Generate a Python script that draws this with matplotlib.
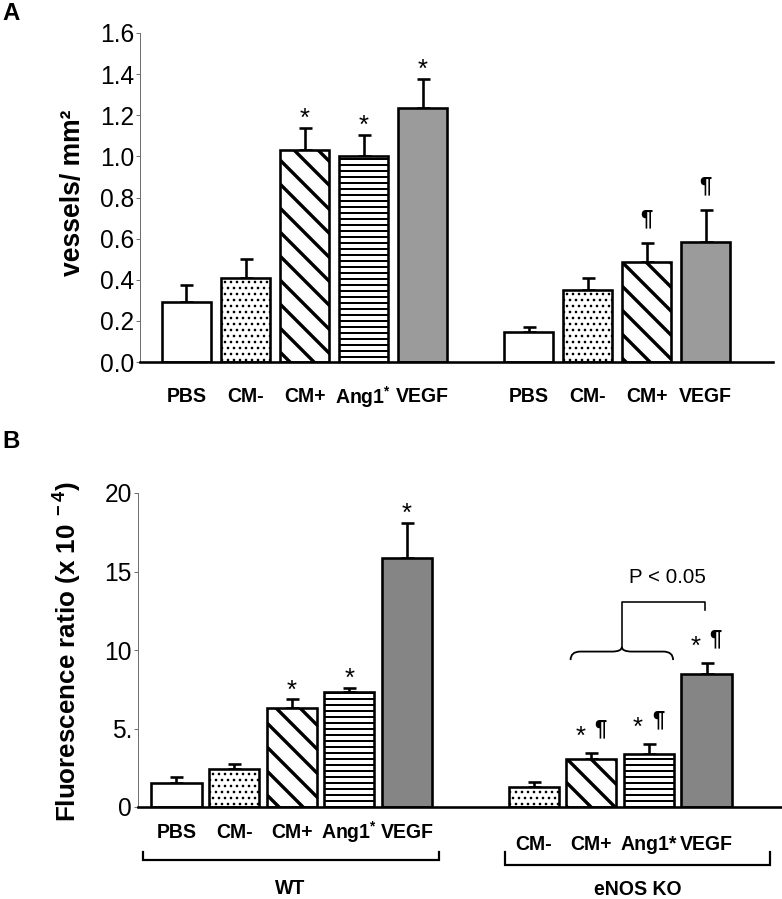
import matplotlib
matplotlib.use("Agg")
import matplotlib.pyplot as plt
import matplotlib.transforms as mtransforms
from matplotlib.path import Path
from matplotlib.patches import PathPatch
import numpy as np

plt.rcParams['font.family'] = ['Liberation Sans', 'DejaVu Sans']
plt.rcParams['mathtext.fontset'] = 'custom'
plt.rcParams['mathtext.rm'] = 'Liberation Sans:bold'
plt.rcParams['mathtext.it'] = 'Liberation Sans:bold'
plt.rcParams['mathtext.bf'] = 'Liberation Sans:bold'

# ---------------- data ----------------
A_wt_labels = ['PBS', 'CM-', 'CM+', 'Ang1$^{*}$', 'VEGF']
A_wt_vals = [0.29, 0.41, 1.03, 1.00, 1.235]
A_wt_err = [0.085, 0.09, 0.11, 0.105, 0.14]
A_wt_marks = ['', '', '*', '*', '*']

A_ko_labels = ['PBS', 'CM-', 'CM+', 'VEGF']
A_ko_vals = [0.145, 0.35, 0.485, 0.585]
A_ko_err = [0.025, 0.06, 0.095, 0.155]
A_ko_marks = ['', '', '¶', '¶']

B_wt_labels = ['PBS', 'CM-', 'CM+', 'Ang1$^{*}$', 'VEGF']
B_wt_vals = [1.5, 2.45, 6.3, 7.3, 15.85]
B_wt_err = [0.4, 0.28, 0.55, 0.3, 2.25]
B_wt_marks = ['', '', '*', '*', '*']

B_ko_labels = ['CM-', 'CM+', 'Ang1*', 'VEGF']
B_ko_vals = [1.27, 3.05, 3.4, 8.45]
B_ko_err = [0.33, 0.4, 0.62, 0.75]
B_ko_marks = ['', '* ¶', '* ¶', '* ¶']

A_yticks = [0.0, 0.2, 0.4, 0.6, 0.8, 1.0, 1.2, 1.4, 1.6]
A_yticklabels = ['0.0', '0.2', '0.4', '0.6', '0.8', '1.0', '1.2', '1.4', '1.6']
B_yticks = [0, 5, 10, 15, 20]
B_yticklabels = ['0', '5.', '10', '15', '20']

group_names = ['WT', 'eNOS KO']
p_text = 'P < 0.05'

# ---------------- styles ----------------
styles = {
    'PBS': dict(fc='white', hatch=None, hlw=1.0),
    'CM-': dict(fc='white', hatch='..', hlw=1.4),
    'CM+': dict(fc='white', hatch='\\', hlw=3.4),
    'Ang1': dict(fc='white', hatch='--', hlw=2.0),
}
GRAY_A = '#9b9b9b'
GRAY_B = '#858585'
LABEL_FS = 19.5

DPI = 72
fig = plt.figure(figsize=(782 / DPI, 899 / DPI), dpi=DPI)


def style_for(label, gray):
    key = label.split('$')[0].replace('*', '')
    if key == 'VEGF':
        return dict(fc=gray, hatch=None, hlw=1.0)
    return styles[key]


def draw_bars(ax, pos, vals, errs, labels, gray, width):
    for x, v, e, lab in zip(pos, vals, errs, labels):
        st = style_for(lab, gray)
        with plt.rc_context({'hatch.linewidth': st['hlw'], 'hatch.color': 'black'}):
            b = ax.bar(x, v, width=width, color=st['fc'], edgecolor='black',
                       linewidth=2.6, hatch=st['hatch'], zorder=2)
        for p in b.patches:
            try:
                p.set_hatch_linewidth(st['hlw'])
            except Exception:
                pass
        ax.errorbar(x, v, yerr=[[0], [e]], fmt='none', ecolor='black',
                    elinewidth=2.6, capsize=6.5, capthick=2.6, zorder=1)


def draw_marks(ax, pos, vals, errs, marks):
    for x, v, e, m in zip(pos, vals, errs, marks):
        if not m:
            continue
        syms = m.split()
        has_pil = '¶' in syms
        base = 24 if has_pil else 17
        if len(syms) == 1:
            dxs = [0]
        else:
            dxs = [-11, 9]
        for s, dx in zip(syms, dxs):
            if s == '*':
                ax.annotate(s, (x, v + e), xytext=(dx, base - 8),
                            textcoords='offset points', ha='center',
                            va='center', fontsize=26, zorder=5)
            else:
                ax.annotate(s, (x, v + e), xytext=(dx, base),
                            textcoords='offset points', ha='center',
                            va='center', fontsize=22, fontweight='bold',
                            zorder=5)


def setup_axis(ax, xlim, ylim, yticks, yticklabels):
    ax.set_xlim(*xlim)
    ax.set_ylim(*ylim)
    ax.spines['top'].set_visible(False)
    ax.spines['right'].set_visible(False)
    ax.spines['left'].set_color('#707070')
    ax.spines['left'].set_linewidth(1.0)
    ax.spines['bottom'].set_color('black')
    ax.spines['bottom'].set_linewidth(2.6)
    ax.spines['bottom'].set_zorder(3)
    ax.set_xticks([])
    ax.set_yticks(yticks)
    ax.set_yticklabels(yticklabels, fontsize=24.5)
    ax.tick_params(axis='y', length=4, width=1.0, color='#707070', pad=2)
    ax.patch.set_alpha(0)


# ---------------- Panel A ----------------
axA = fig.add_axes([140 / 782, 1 - 362 / 899, 633 / 782, 329 / 899])
posA_wt = np.arange(len(A_wt_vals)) * 1.0
posA_ko = posA_wt[-1] + 1.8 + np.arange(len(A_ko_vals))
setup_axis(axA, (-0.788, 9.94), (0, 1.6), A_yticks, A_yticklabels)
draw_bars(axA, posA_wt, A_wt_vals, A_wt_err, A_wt_labels, GRAY_A, 0.83)
draw_bars(axA, posA_ko, A_ko_vals, A_ko_err, A_ko_labels, GRAY_A, 0.83)
draw_marks(axA, posA_wt, A_wt_vals, A_wt_err, A_wt_marks)
draw_marks(axA, posA_ko, A_ko_vals, A_ko_err, A_ko_marks)
trA = mtransforms.blended_transform_factory(axA.transData, axA.transAxes)
for x, lab in zip(list(posA_wt) + list(posA_ko), A_wt_labels + A_ko_labels):
    axA.text(x, -0.106, lab, transform=trA, ha='center', va='center',
             fontsize=LABEL_FS, fontweight='bold')

fig.text(73 / 782, 1 - 193 / 899, 'vessels/ mm²', rotation=90, ha='center',
         va='center', fontsize=26.5, fontweight='bold')
fig.text(2 / 782, 1 - 2 / 899, 'A', ha='left', va='top', fontsize=24,
         fontweight='bold')

# ---------------- Panel B ----------------
axB = fig.add_axes([138 / 782, 1 - 807 / 899, 644 / 782, 314 / 899])
posB_wt = np.arange(len(B_wt_vals)) * 1.0
posB_ko = posB_wt[-1] + 2.2 + np.arange(len(B_ko_vals))
setup_axis(axB, (-0.668, 10.51), (0, 20), B_yticks, B_yticklabels)
draw_bars(axB, posB_wt, B_wt_vals, B_wt_err, B_wt_labels, GRAY_B, 0.87)
draw_bars(axB, posB_ko, B_ko_vals, B_ko_err, B_ko_labels, GRAY_B, 0.87)
draw_marks(axB, posB_wt, B_wt_vals, B_wt_err, B_wt_marks)
draw_marks(axB, posB_ko, B_ko_vals, B_ko_err, B_ko_marks)

trB = mtransforms.blended_transform_factory(axB.transData, axB.transAxes)
for x, lab in zip(posB_wt, B_wt_labels):
    axB.text(x, -0.08, lab, transform=trB, ha='center', va='center',
             fontsize=LABEL_FS, fontweight='bold')
for x, lab in zip(posB_ko, B_ko_labels):
    axB.text(x, -0.121, lab, transform=trB, ha='center', va='center',
             fontsize=LABEL_FS, fontweight='bold')


# group brackets under panel B
def group_bracket(ax, x0, x1, ybase, ytop, label, xlabel, ylabel):
    ax.plot([x0, x0, x1, x1], [ytop, ybase, ybase, ytop], transform=trB,
            color='black', lw=2.2, clip_on=False, solid_joinstyle='miter')
    ax.text(xlabel, ylabel, label, transform=trB, ha='center', va='center',
            fontsize=LABEL_FS, fontweight='bold')


group_bracket(axB, posB_wt[0] - 0.58, posB_wt[-1] + 0.56, -0.169, -0.143,
              group_names[0], 1.97, -0.261)
group_bracket(axB, posB_ko[0] - 0.5, posB_ko[-1] + 1.1, -0.185, -0.143,
              group_names[1], 8.0, -0.264)

# curly brace + significance bracket
bx0 = posB_ko[1] - 0.36
bx1 = posB_ko[2] + 0.42
bxm = (bx0 + bx1) / 2
y0, y1, y2 = 9.36, 9.9, 10.2
d = 0.17
verts = [(bx0, y0), (bx0, y1), (bx0 + d, y1),
         (bxm - d, y1), (bxm, y1), (bxm, y2),
         (bxm, y1), (bxm + d, y1),
         (bx1 - d, y1), (bx1, y1), (bx1, y0)]
codes = [Path.MOVETO, Path.CURVE3, Path.CURVE3,
         Path.LINETO, Path.CURVE3, Path.CURVE3,
         Path.CURVE3, Path.CURVE3,
         Path.LINETO, Path.CURVE3, Path.CURVE3]
axB.add_patch(PathPatch(Path(verts, codes), fill=False, lw=1.8,
                        edgecolor='black', zorder=4))
vx = posB_ko[3] - 0.02
axB.plot([bxm, bxm, vx, vx], [y2, 13.06, 13.06, 12.55], color='black',
         lw=1.6, zorder=4)
axB.text(8.52, 14.6, p_text, ha='center', va='center', fontsize=20.5)

fig.text(68 / 782, 1 - 652 / 899, 'Fluorescence ratio (x 10$^{\\ -4}$)',
         rotation=90, ha='center', va='center', fontsize=26,
         fontweight='bold')
fig.text(2 / 782, 1 - 430 / 899, 'B', ha='left', va='top', fontsize=24,
         fontweight='bold')

fig.savefig('out.png', dpi=DPI)
